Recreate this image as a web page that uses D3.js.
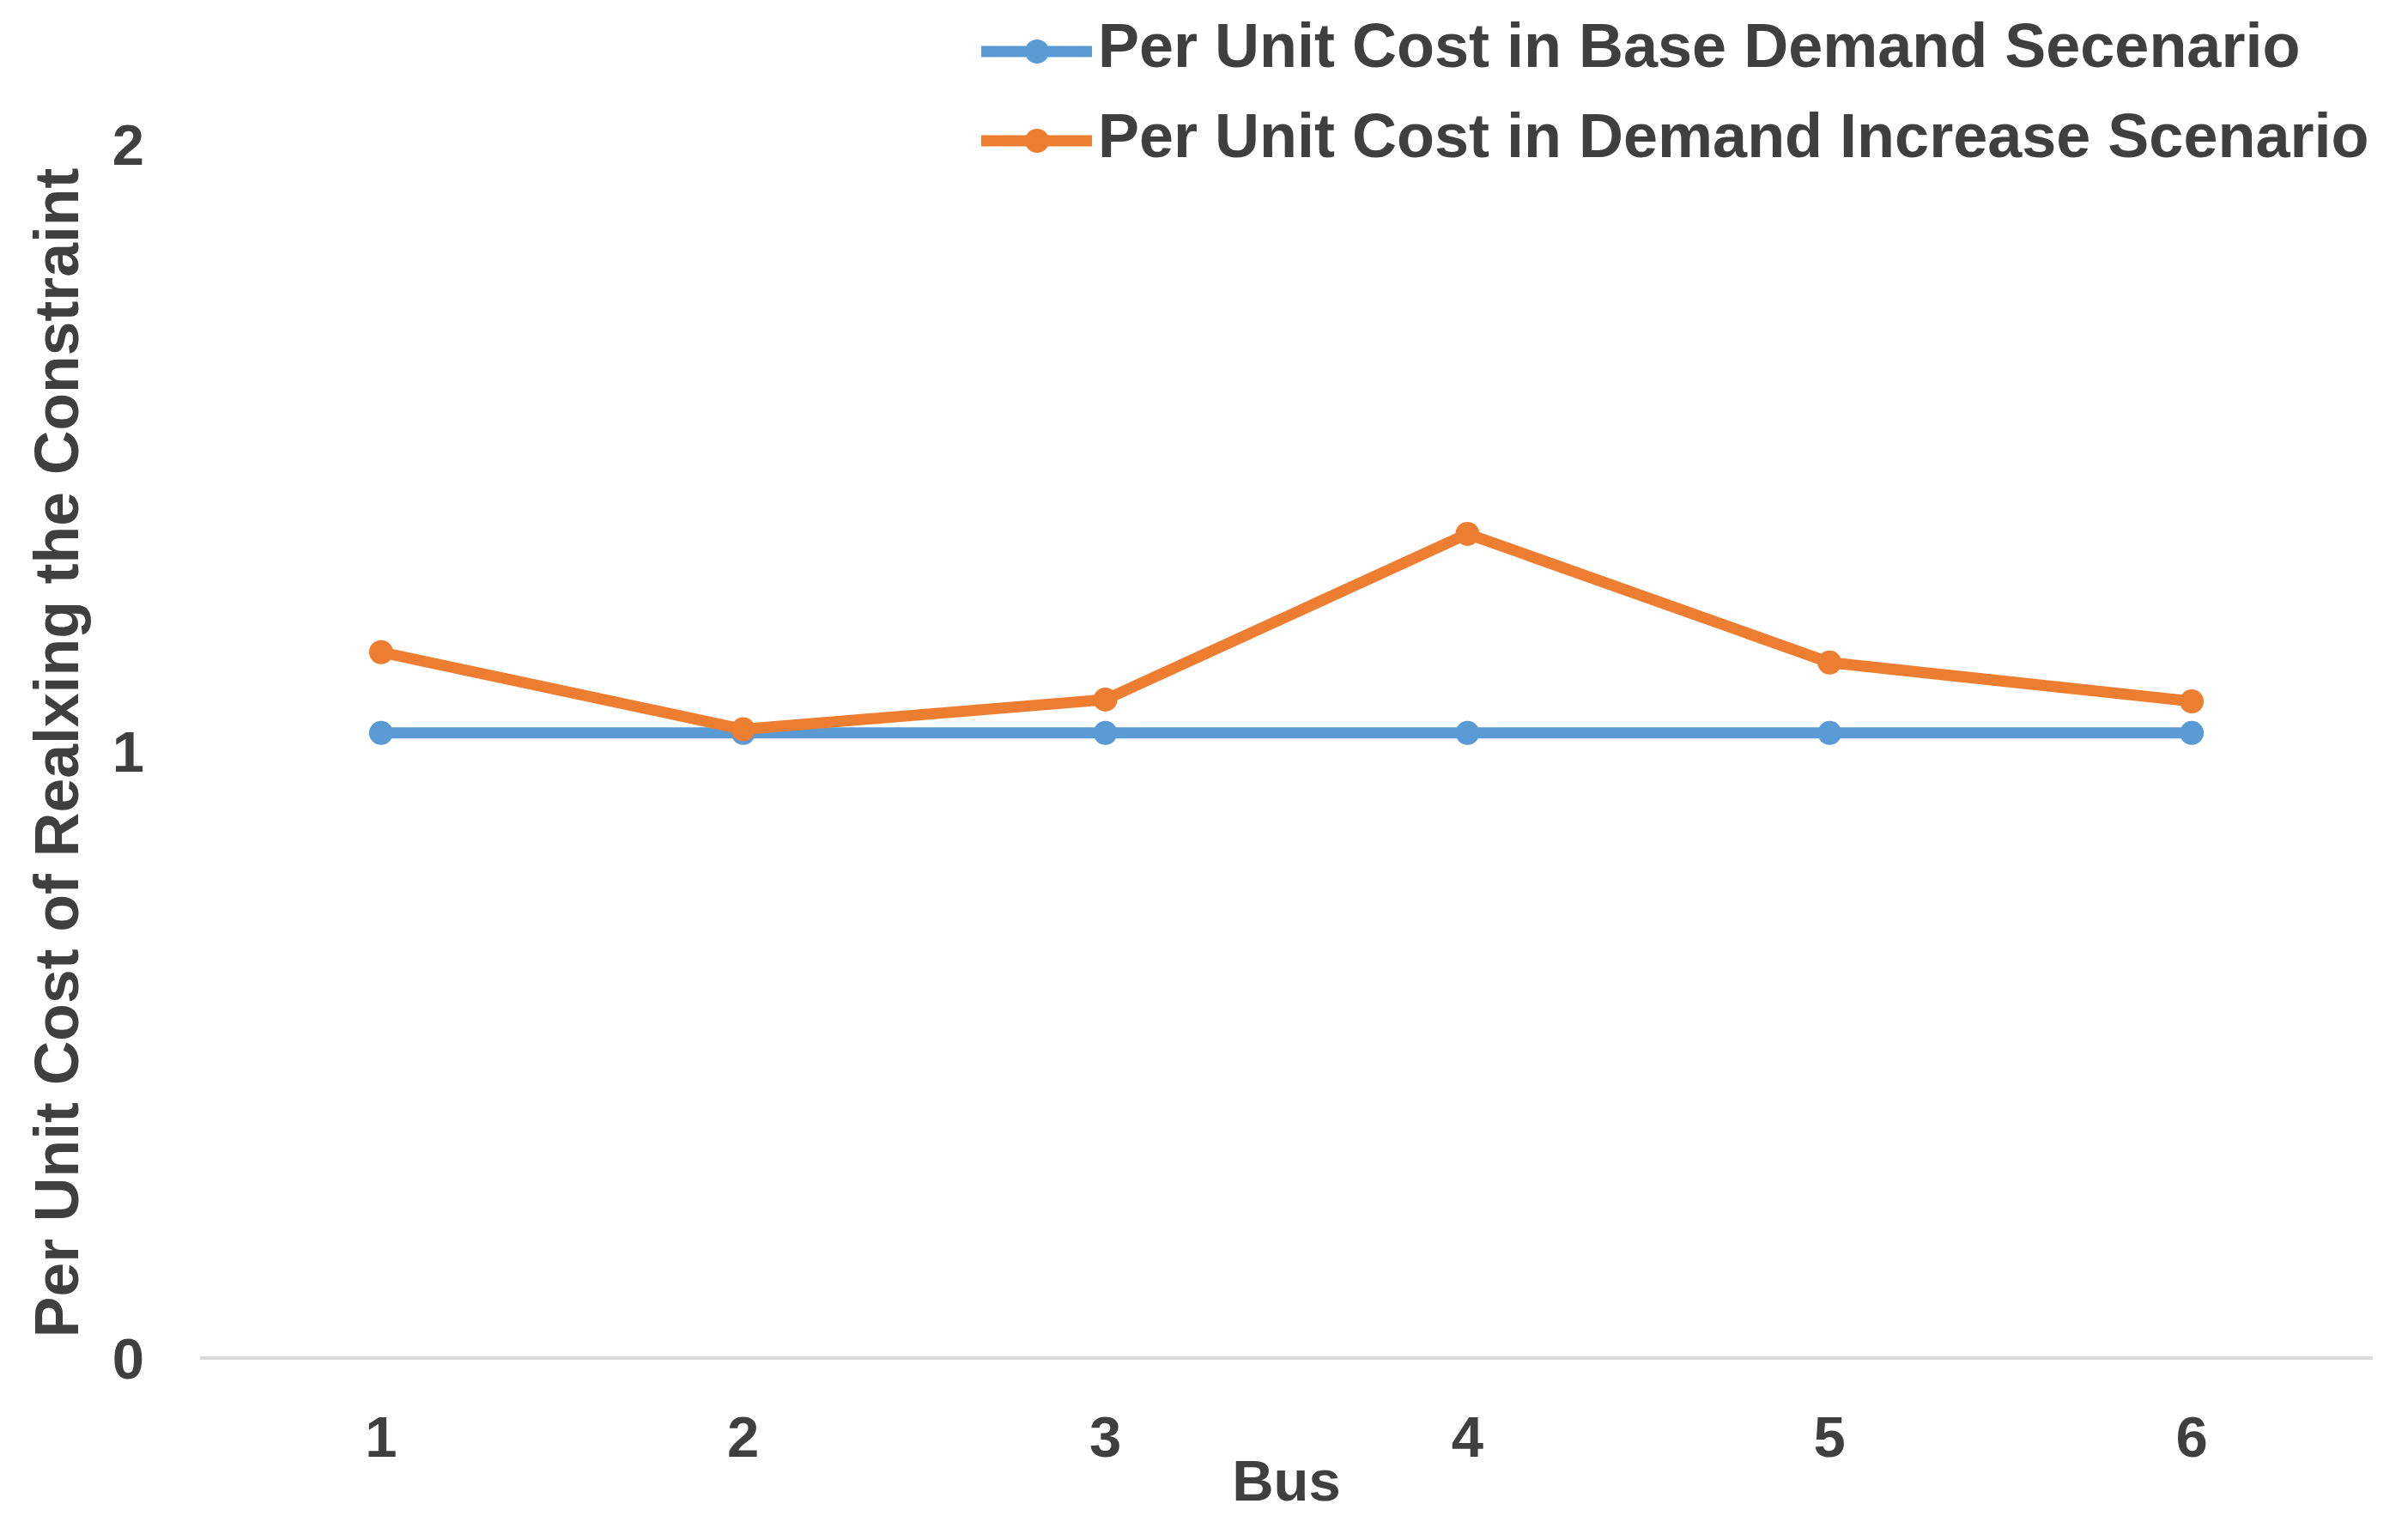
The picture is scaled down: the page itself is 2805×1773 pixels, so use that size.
<!DOCTYPE html>
<html>
<head>
<meta charset="utf-8">
<script src="https://cdn.jsdelivr.net/npm/d3@7/dist/d3.min.js"></script>
<style>
html,body{margin:0;padding:0;background:#fff;}
svg{display:block;}
text{font-family:"Liberation Sans",Arial,sans-serif;font-weight:bold;fill:#3f3f3f;}
</style>
</head>
<body>
<svg id="chart" width="2805" height="1773"></svg>
<script>
const categories = ["1","2","3","4","5","6"];
const baseDemand = [1.03,1.03,1.03,1.03,1.03,1.03];
const demandIncrease = [1.163,1.036,1.085,1.358,1.146,1.082];
const yTicks = [0,1,2];
const seriesNames = ["Per Unit Cost in Base Demand Secenario","Per Unit Cost in Demand Increase Scenario"];
const seriesColors = ["#5B9BD5","#ED7D31"];
const xTitle = "Bus";
const yTitle = "Per Unit Cost of Realxing the Constraint";

(function(){
const svg = d3.select("#chart");
const plotLeft = 233, plotRight = 2764, plotTop = 168, plotBottom = 1582;

const x = d3.scalePoint().domain(categories).range([plotLeft,plotRight]).padding(0.5);
const y = d3.scaleLinear().domain([0,2]).range([plotBottom,plotTop]);

// x axis baseline
svg.append("line").attr("x1",plotLeft).attr("x2",plotRight).attr("y1",y(0)).attr("y2",y(0))
  .attr("stroke","#d9d9d9").attr("stroke-width",4);

// y tick labels
svg.selectAll(".ytick").data(yTicks).enter().append("text")
  .attr("x",168).attr("y",d=>y(d)).attr("dy","0.36em")
  .attr("text-anchor","end").attr("font-size",67).text(d=>d);

// x tick labels
svg.selectAll(".xtick").data(categories).enter().append("text")
  .attr("x",d=>x(d)).attr("y",1697).attr("text-anchor","middle")
  .attr("font-size",67).text(d=>d);

// axis titles
svg.append("text").attr("x",(plotLeft+plotRight)/2).attr("y",1748).attr("text-anchor","middle")
  .attr("font-size",67).text(xTitle);
svg.append("text").attr("transform","translate(91,877) rotate(-90)")
  .attr("text-anchor","middle").attr("font-size",71.5).text(yTitle);

const line = d3.line().x((d,i)=>x(categories[i])).y(d=>y(d));
const seriesData = [baseDemand, demandIncrease];
seriesData.forEach((vals,si)=>{
  svg.append("path").datum(vals).attr("d",line).attr("fill","none")
    .attr("stroke",seriesColors[si]).attr("stroke-width",13).attr("stroke-linejoin","round");
  svg.selectAll(".pt"+si).data(vals).enter().append("circle")
    .attr("cx",(d,i)=>x(categories[i])).attr("cy",d=>y(d)).attr("r",14)
    .attr("fill",seriesColors[si]);
});

// legend
const legY = [60,164];
const legText = [78,183];
seriesNames.forEach((name,i)=>{
  svg.append("line").attr("x1",1143).attr("x2",1272).attr("y1",legY[i]).attr("y2",legY[i])
    .attr("stroke",seriesColors[i]).attr("stroke-width",13);
  svg.append("circle").attr("cx",1208).attr("cy",legY[i]).attr("r",14).attr("fill",seriesColors[i]);
  svg.append("text").attr("x",1279).attr("y",legText[i]).attr("font-size",72).text(name);
});
})();
</script>
</body>
</html>
